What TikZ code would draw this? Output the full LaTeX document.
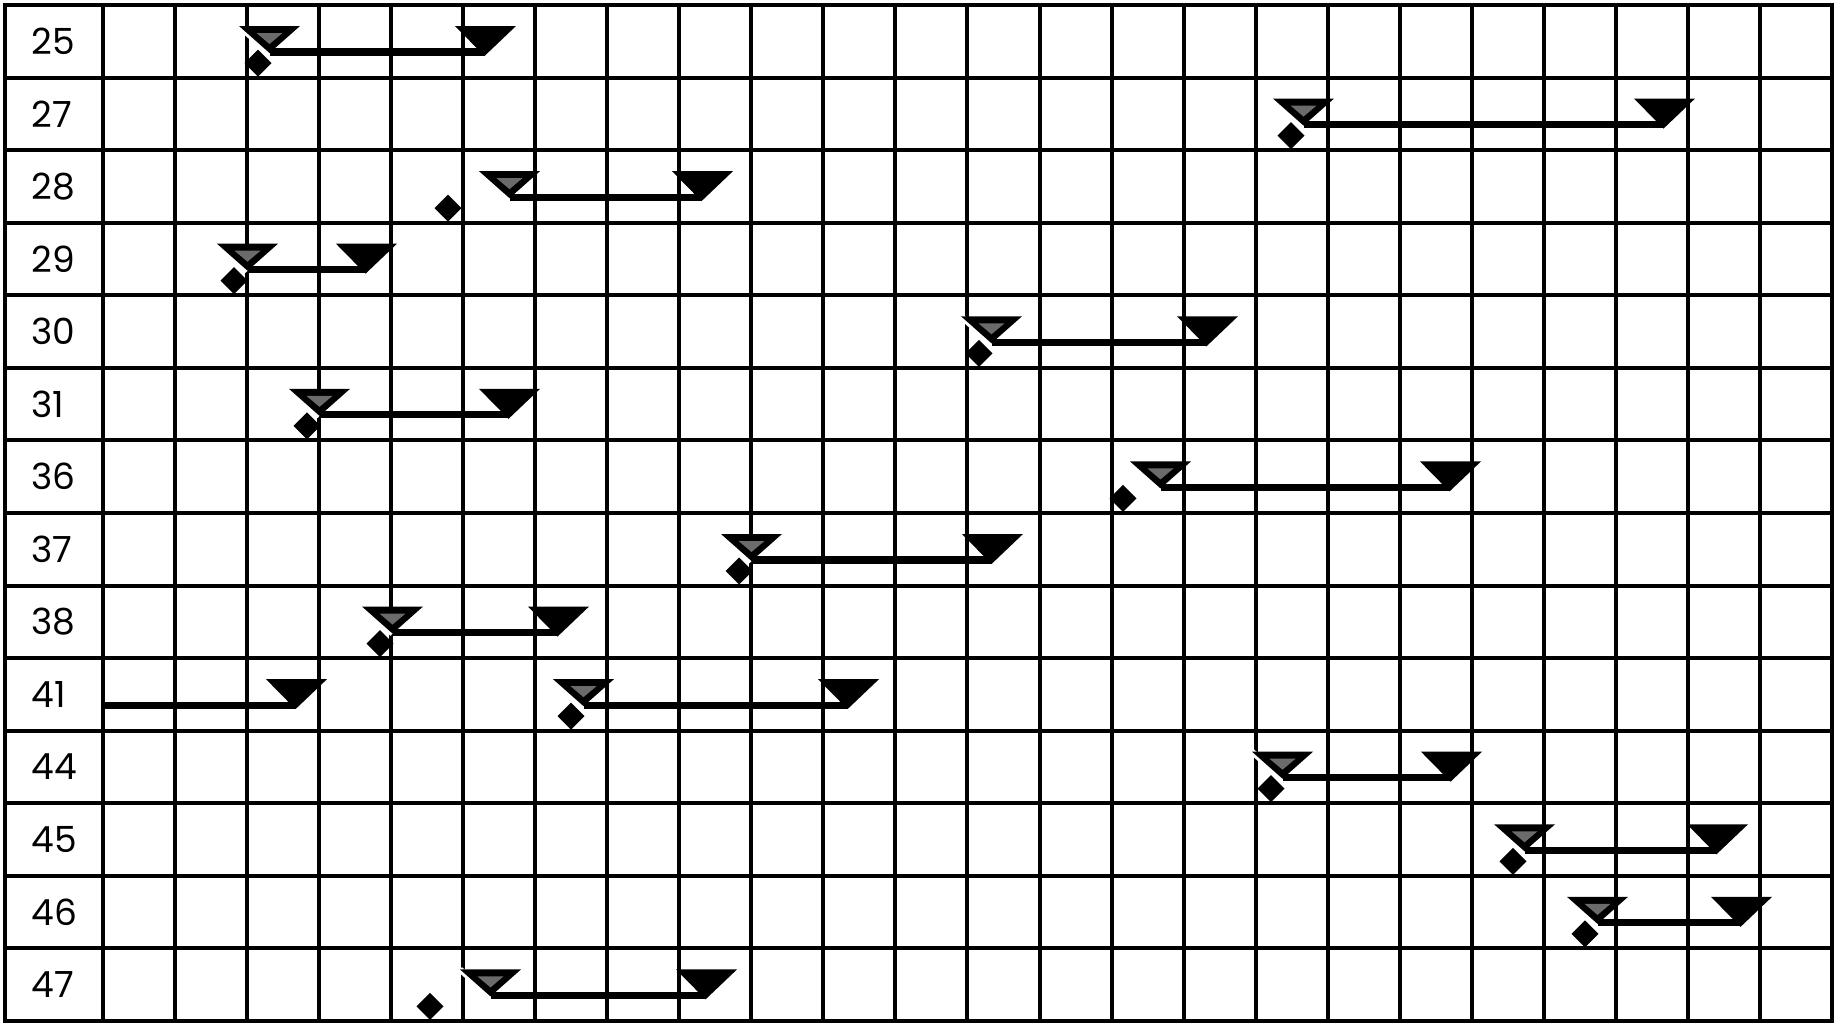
\documentclass[tikz,border=0pt]{standalone}
\usepackage{fontspec}
\setmainfont{Poppins}
\tikzset{
  gridline/.style={line width=2pt, line cap=rect},
  conn/.style={line width=3.6pt},
  lab/.style={font=\fontsize{18}{19}\selectfont, anchor=west, inner sep=0pt},
  diamfill/.style={fill=black},
  startmark/.pic={
    \draw[white, line width=3pt] (-30.5,-27) -- (0,0);
    \fill[black] (-30.5,-27) -- (30.5,-27) -- (0,0) -- cycle;
    \fill[black!58] (-13,-20) -- (13,-20) -- (0,-9) -- cycle;
  },
  endmark/.pic={
    \fill[black] (-29.5,-30) -- (31.5,-30) -- (0,0) -- cycle;
  }
}
\begin{document}
\begin{tikzpicture}[x=0.5pt,y=-0.5pt]
\useasboundingbox (0,0) rectangle (1839,1025);
\fill[white] (0,0) rectangle (1839,1025);
% grid
\foreach \i in {0,...,14}
  \draw[gridline] (5,{5+72.57*\i}) -- (1832,{5+72.57*\i});
\foreach \k in {0,...,24}
  \draw[gridline] ({103+72.04*\k},5) -- ({103+72.04*\k},1021);
\draw[gridline] (5,5) -- (5,1021);
% rows: index / label / start triangle left / end triangle left / diamond x
\foreach \i/\lab/\s/\b/\d in {
  0/25/239/455/258, 1/27/1273/1634/1291, 2/28/479/672/448,
  3/29/217/336/234, 4/30/961/1177/979, 5/31/289/479/307,
  6/36/1130/1420/1123, 7/37/721/962/739, 8/38/362/528/380,
  9/41/553/818/571, 10/44/1252/1421/1271, 11/45/1494/1687/1513,
  12/46/1567/1711/1585, 13/47/460/676/430}{
  \pgfmathsetmacro\rt{5+72.57*\i}
  \node[lab] (L\lab) at (31,\rt+36.3) {\lab};
  \coordinate (D\lab) at (\d,\rt+58);
  \fill[diamfill] (D\lab) +(-13.5,0) -- +(0,-13.5) -- +(13.5,0) -- +(0,13.5) -- cycle;
  \pic at (\s+30.5,\rt+48) {startmark};
  \pic at (\b+29.5,\rt+51) {endmark};
  \coordinate (S\lab) at (\s+30.5,\rt+47);
  \coordinate (E\lab) at (\b+29.5,\rt+47);
  \draw[conn] (S\lab) -- (E\lab);
}
% row 41: bar entering from the left
\pgfmathsetmacro\rt{5+72.57*9}
\coordinate (F41) at (104,\rt+47);
\pic at (266+29.5,\rt+51) {endmark};
\coordinate (G41) at (266+29.5,\rt+47);
\draw[conn] (F41) -- (G41);
\end{tikzpicture}
\end{document}
